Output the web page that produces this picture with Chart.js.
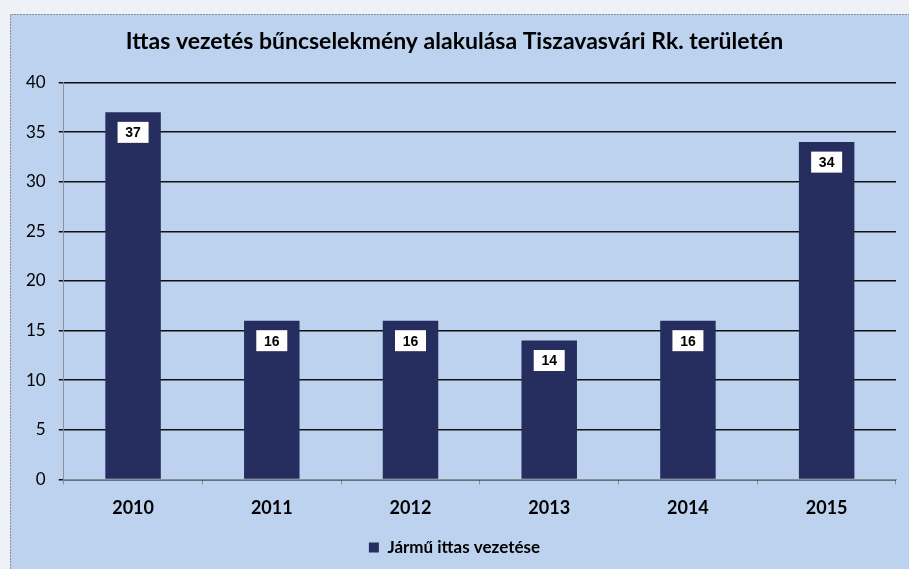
<!DOCTYPE html>
<html>
<head>
<meta charset="utf-8">
<script src="https://cdn.jsdelivr.net/npm/chart.js@4.4.1/dist/chart.umd.min.js"></script>
<style>
    html, body { margin: 0; padding: 0; background: #eef2f7; }
    #wrap { position: relative; width: 909px; height: 569px; }
</style>
</head>
<body>
<div id="wrap"><canvas id="chart" width="909" height="569"></canvas></div>
<script>
const years = ['2010', '2011', '2012', '2013', '2014', '2015'];
const cases = [37, 16, 16, 14, 16, 34];
const seriesName = 'Jármű ittas vezetése';
const chartTitle = 'Ittas vezetés bűncselekmény alakulása Tiszavasvári Rk. területén';

// light blue panel with dotted border, like the scanned Excel chart
const panelBg = {
    id: 'panelBg',
    beforeDraw(chart) {
        const ctx = chart.ctx;
        ctx.save();
        ctx.fillStyle = '#bcd2ef';
        ctx.fillRect(10, 14, chart.width - 10, chart.height - 14);
        ctx.strokeStyle = '#8a8f99';
        ctx.lineWidth = 1;
        ctx.setLineDash([2, 1]);
        ctx.beginPath();
        ctx.moveTo(10.5, chart.height);
        ctx.lineTo(10.5, 14.5);
        ctx.lineTo(chart.width, 14.5);
        ctx.stroke();
        ctx.restore();
    }
};

// white value boxes near the top of each bar
const valueBoxes = {
    id: 'valueBoxes',
    afterDatasetsDraw(chart) {
        const ctx = chart.ctx;
        const meta = chart.getDatasetMeta(0);
        ctx.save();
        ctx.font = 'bold 14px "Liberation Sans", Arial, sans-serif';
        ctx.textAlign = 'center';
        ctx.textBaseline = 'middle';
        meta.data.forEach((bar, i) => {
            const cx = bar.x;
            const cy = bar.y + 20;
            const w = 31, h = 21;
            ctx.fillStyle = '#ffffff';
            ctx.fillRect(cx - w / 2, cy - h / 2, w, h);
            ctx.fillStyle = '#000000';
            ctx.fillText(String(cases[i]), cx, cy + 1);
        });
        ctx.restore();
    }
};

new Chart(document.getElementById('chart').getContext('2d'), {
    type: 'bar',
    data: {
        labels: years,
        datasets: [{
            label: seriesName,
            data: cases,
            backgroundColor: '#262d5f',
            borderWidth: 0,
            categoryPercentage: 1,
            barPercentage: 0.4
        }]
    },
    options: {
        responsive: false,
        animation: false,
        layout: {
            padding: { top: 28, left: 13, right: 13, bottom: 3 }
        },
        plugins: {
            title: {
                display: true,
                text: chartTitle,
                color: '#000',
                font: { family: 'Lato', size: 23, weight: 'bold' },
                padding: { top: 0, bottom: 27 }
            },
            legend: {
                position: 'bottom',
                labels: {
                    color: '#000',
                    font: { family: 'Lato', size: 17, weight: 'bold' },
                    boxWidth: 10,
                    boxHeight: 10,
                    padding: 7
                }
            },
            tooltip: { enabled: false }
        },
        scales: {
            x: {
                grid: {
                    display: true,
                    drawOnChartArea: false,
                    offset: true,
                    tickLength: 5,
                    color: '#8a8f99'
                },
                border: { color: '#8a8f99', width: 1 },
                ticks: {
                    color: '#000',
                    font: { family: 'Lato', size: 18, weight: 'bold' },
                    padding: 13
                }
            },
            y: {
                min: 0,
                max: 40,
                ticks: {
                    stepSize: 5,
                    color: '#000',
                    font: { family: 'Lato', size: 17 },
                    padding: 13
                },
                grid: {
                    color: '#111',
                    lineWidth: 1.5,
                    tickLength: 5
                },
                border: { color: '#8a8f99', width: 1 }
            }
        }
    },
    plugins: [panelBg, valueBoxes]
});
</script>
</body>
</html>
